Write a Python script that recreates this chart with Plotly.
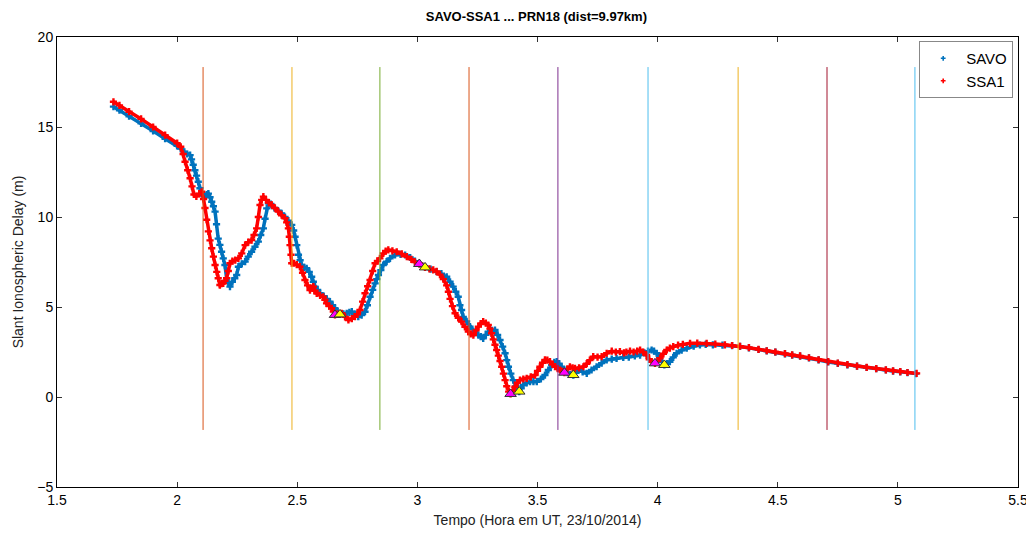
import plotly.graph_objects as go

# ---------------- data ----------------
savo_t = [1.735, 1.76, 1.80, 1.85, 1.90, 1.95, 2.00, 2.015, 2.030, 2.042, 2.054, 2.060, 2.067, 2.074, 2.081,
          2.088, 2.095, 2.102, 2.109, 2.116, 2.123, 2.130, 2.137, 2.144, 2.151, 2.158, 2.164, 2.171, 2.178,
          2.185, 2.192, 2.199, 2.206, 2.213, 2.220, 2.230, 2.240, 2.248, 2.255, 2.269, 2.283, 2.296, 2.31,
          2.324, 2.338, 2.348, 2.359, 2.366, 2.373, 2.380, 2.390, 2.405, 2.420, 2.435, 2.449, 2.463, 2.477,
          2.485, 2.491, 2.498, 2.505, 2.512, 2.518, 2.529, 2.539, 2.550, 2.560, 2.567, 2.574, 2.585, 2.595,
          2.610, 2.623, 2.636, 2.647, 2.657, 2.668, 2.678, 2.692, 2.706, 2.717, 2.727, 2.740, 2.754, 2.768,
          2.782, 2.792, 2.803, 2.814, 2.824, 2.831, 2.838, 2.848, 2.858, 2.872, 2.886, 2.907, 2.930, 2.949,
          2.970, 2.990, 3.010, 3.032, 3.055, 3.080, 3.100, 3.122, 3.136, 3.149, 3.160, 3.170, 3.177, 3.184,
          3.191, 3.205, 3.219, 3.240, 3.254, 3.264, 3.274, 3.285, 3.295, 3.310, 3.323, 3.334, 3.344, 3.355,
          3.365, 3.372, 3.379, 3.389, 3.399, 3.410, 3.417, 3.424, 3.432, 3.441, 3.455, 3.469, 3.483, 3.497,
          3.514, 3.531, 3.545, 3.559, 3.570, 3.580, 3.590, 3.600, 3.612, 3.625, 3.637, 3.649, 3.660, 3.670,
          3.688, 3.705, 3.725, 3.746, 3.767, 3.788, 3.809, 3.829, 3.857, 3.880, 3.905, 3.927, 3.945, 3.960,
          3.975, 3.985, 3.996, 4.008, 4.018, 4.028, 4.040, 4.051, 4.065, 4.079, 4.100, 4.121, 4.150, 4.176,
          4.20, 4.23, 4.27, 4.31, 4.343, 4.38, 4.42, 4.454, 4.49, 4.53, 4.56, 4.593, 4.63, 4.67, 4.71, 4.75,
          4.79, 4.83, 4.87, 4.91, 4.95, 4.98, 5.01, 5.04, 5.075]
savo_v = [16.13, 15.93, 15.60, 15.20, 14.78, 14.35, 13.95, 13.80, 13.62, 13.50, 13.44, 13.20, 12.90, 12.60, 12.30,
          11.96, 11.60, 11.30, 11.20, 11.15, 11.25, 11.30, 11.10, 10.85, 10.60, 10.30, 9.60, 8.80, 8.45,
          8.07, 7.70, 7.33, 6.60, 6.35, 6.13, 6.40, 6.60, 6.78, 7.24, 7.40, 7.52, 7.80, 8.07,
          8.35, 8.63, 9.00, 9.37, 9.90, 10.48, 10.76, 10.72, 10.50, 10.35, 10.20, 10.00, 9.80, 9.56,
          9.25, 8.90, 8.44, 7.90, 7.60, 7.33, 7.20, 7.15, 6.95, 6.68, 6.40, 6.13, 5.95, 5.76,
          5.60, 5.45, 5.30, 5.10, 4.93, 4.75, 4.59, 4.62, 4.65, 4.70, 4.74, 4.60, 4.46, 4.55,
          4.74, 5.10, 5.57, 5.95, 6.31, 6.55, 6.78, 7.05, 7.33, 7.52, 7.70, 7.89, 7.92, 7.89,
          7.75, 7.55, 7.40, 7.22, 7.10, 6.96, 6.85, 6.68, 6.40, 6.13, 5.85, 5.57, 5.10, 4.83,
          4.45, 4.20, 3.91, 3.60, 3.44, 3.35, 3.26, 3.45, 3.63, 3.70, 3.72, 3.45, 3.17, 2.80,
          2.43, 2.05, 1.68, 1.30, 0.94, 0.60, 0.40, 0.30, 0.48, 0.67, 0.78, 0.85, 0.85, 0.85,
          1.00, 1.22, 1.50, 1.78, 1.92, 1.96, 1.85, 1.68, 1.50, 1.35, 1.25, 1.22, 1.35, 1.50,
          1.40, 1.31, 1.50, 1.68, 1.88, 2.06, 2.10, 2.15, 2.20, 2.22, 2.28, 2.33, 2.45, 2.55,
          2.61, 2.55, 2.43, 2.20, 1.95, 1.78, 1.85, 1.96, 2.20, 2.43, 2.60, 2.71, 2.82, 2.89,
          2.92, 2.90, 2.88, 2.85, 2.81, 2.73, 2.64, 2.56, 2.49, 2.40, 2.33, 2.27, 2.17, 2.06, 1.95, 1.87,
          1.79, 1.71, 1.64, 1.57, 1.50, 1.44, 1.40, 1.35, 1.30]

ssa1_t = [1.735, 1.76, 1.80, 1.85, 1.90, 1.95, 2.00, 2.015, 2.025, 2.033, 2.044, 2.054, 2.062, 2.070, 2.080,
          2.092, 2.102, 2.110, 2.116, 2.123, 2.130, 2.137, 2.144, 2.151, 2.158, 2.165, 2.171, 2.178, 2.185,
          2.192, 2.199, 2.206, 2.213, 2.220, 2.230, 2.242, 2.255, 2.269, 2.283, 2.296, 2.31, 2.320, 2.331,
          2.338, 2.345, 2.352, 2.359, 2.370, 2.382, 2.394, 2.407, 2.421, 2.435, 2.449, 2.456, 2.463, 2.467,
          2.470, 2.474, 2.477, 2.487, 2.498, 2.511, 2.522, 2.532, 2.543, 2.553, 2.560, 2.567, 2.574, 2.581,
          2.595, 2.608, 2.615, 2.622, 2.633, 2.643, 2.650, 2.657, 2.670, 2.685, 2.699, 2.713, 2.727, 2.740,
          2.750, 2.761, 2.772, 2.782, 2.793, 2.803, 2.814, 2.824, 2.834, 2.844, 2.858, 2.868, 2.879, 2.896,
          2.914, 2.935, 2.956, 2.975, 2.990, 3.008, 3.020, 3.032, 3.050, 3.066, 3.080, 3.094, 3.108, 3.122,
          3.129, 3.136, 3.146, 3.157, 3.170, 3.184, 3.198, 3.212, 3.222, 3.233, 3.244, 3.254, 3.264, 3.274,
          3.285, 3.295, 3.302, 3.309, 3.316, 3.323, 3.330, 3.337, 3.344, 3.351, 3.358, 3.365, 3.372, 3.380,
          3.388, 3.397, 3.406, 3.416, 3.427, 3.441, 3.455, 3.472, 3.490, 3.500, 3.510, 3.521, 3.531, 3.541,
          3.552, 3.563, 3.573, 3.584, 3.594, 3.603, 3.612, 3.624, 3.635, 3.646, 3.656, 3.673, 3.691, 3.705,
          3.718, 3.732, 3.750, 3.767, 3.788, 3.809, 3.826, 3.843, 3.860, 3.870, 3.885, 3.900, 3.915, 3.927,
          3.940, 3.954, 3.965, 3.975, 3.989, 4.000, 4.010, 4.024, 4.038, 4.051, 4.065, 4.085, 4.105, 4.135,
          4.165, 4.204, 4.24, 4.28, 4.31, 4.343, 4.38, 4.42, 4.454, 4.49, 4.53, 4.56, 4.593, 4.63, 4.67,
          4.71, 4.75, 4.79, 4.83, 4.87, 4.91, 4.95, 4.98, 5.01, 5.04, 5.078]
ssa1_v = [16.40, 16.20, 15.85, 15.45, 15.00, 14.55, 14.10, 13.90, 13.50, 13.07, 12.60, 12.15, 11.70, 11.25, 11.15,
          11.30, 11.40, 11.00, 10.50, 9.85, 9.20, 8.70, 8.26, 7.80, 7.33, 6.95, 6.60, 6.22, 6.30,
          6.31, 6.45, 6.60, 7.00, 7.43, 7.55, 7.60, 7.70, 7.98, 8.44, 8.60, 8.72, 9.00, 9.37,
          10.00, 10.67, 10.95, 11.13, 10.95, 10.80, 10.67, 10.50, 10.30, 10.10, 9.93, 9.70, 9.37, 8.90,
          8.44, 7.90, 7.43, 7.43, 7.35, 7.24, 6.90, 6.50, 6.20, 5.94, 6.05, 6.13, 5.90, 5.76,
          5.65, 5.57, 5.40, 5.20, 5.05, 4.93, 4.75, 4.56, 4.60, 4.65, 4.45, 4.28, 4.35, 4.46,
          4.60, 4.83, 5.30, 5.76, 6.15, 6.50, 7.00, 7.43, 7.55, 7.70, 7.98, 8.10, 8.17, 8.12,
          8.07, 7.95, 7.80, 7.65, 7.50, 7.39, 7.28, 7.20, 7.12, 7.06, 6.98, 6.80, 6.55, 6.20,
          5.85, 5.45, 5.05, 4.65, 4.40, 4.19, 3.90, 3.63, 3.50, 3.44, 3.70, 3.91, 4.08, 4.19,
          4.10, 4.00, 3.80, 3.54, 3.20, 2.90, 2.61, 2.30, 2.00, 1.68, 1.30, 0.94, 0.60, 0.30,
          0.17, 0.35, 0.57, 0.80, 0.94, 1.00, 1.04, 1.12, 1.22, 1.45, 1.68, 1.90, 2.06, 2.05,
          1.96, 1.82, 1.68, 1.58, 1.50, 1.42, 1.35, 1.55, 1.68, 1.62, 1.59, 1.62, 1.68, 1.85,
          2.05, 2.24, 2.22, 2.24, 2.43, 2.55, 2.50, 2.52, 2.45, 2.50, 2.55, 2.50, 2.55, 2.61,
          2.50, 2.33, 2.10, 1.95, 1.87, 2.00, 2.15, 2.40, 2.61, 2.72, 2.80, 2.88, 2.92, 2.98,
          2.99, 2.98, 2.94, 2.90, 2.86, 2.82, 2.74, 2.65, 2.57, 2.50, 2.41, 2.34, 2.28, 2.18, 2.07,
          1.96, 1.88, 1.80, 1.72, 1.65, 1.58, 1.51, 1.45, 1.41, 1.36, 1.31]

# event markers (triangles)
mag_t = [2.657, 3.008, 3.388, 3.612, 3.989]
mag_v = [4.56, 7.39, 0.17, 1.35, 1.87]
yel_t = [2.678, 3.032, 3.424, 3.649, 4.028]
yel_v = [4.59, 7.20, 0.30, 1.22, 1.78]

# vertical reference lines
vline_t = [2.108, 2.478, 2.844, 3.215, 3.585, 3.960, 4.335, 4.705, 5.071]
vline_colors = ["#D95319", "#EDB120", "#77AC30", "#D95319", "#7E2F8E",
                "#4DBEEE", "#EDB120", "#A2142F", "#4DBEEE"]
vline_lo, vline_hi = -1.83, 18.33

x_ticks = [1.5, 2, 2.5, 3, 3.5, 4, 4.5, 5, 5.5]
x_tick_text = ["1.5", "2", "2.5", "3", "3.5", "4", "4.5", "5", "5.5"]
y_ticks = [-5, 0, 5, 10, 15, 20]

FONT = "Liberation Sans, Arial"

# ---------------- figure ----------------
fig = go.Figure()

fig.add_trace(go.Scatter(x=savo_t, y=savo_v, mode="lines+markers", name="SAVO", showlegend=False,
                         line=dict(color="#0072BD", width=3.5),
                         marker=dict(symbol="cross", size=6, color="#0072BD")))
fig.add_trace(go.Scatter(x=ssa1_t, y=ssa1_v, mode="lines+markers", name="SSA1", showlegend=False,
                         line=dict(color="#FF0000", width=3.5),
                         marker=dict(symbol="cross", size=6, color="#FF0000")))

# legend entries (small dot symbols as in the original)
fig.add_trace(go.Scatter(x=[None], y=[None], mode="markers", name="SAVO",
                         marker=dict(symbol="cross", size=4, color="#0072BD")))
fig.add_trace(go.Scatter(x=[None], y=[None], mode="markers", name="SSA1",
                         marker=dict(symbol="cross", size=4, color="#FF0000")))

for t, c in zip(vline_t, vline_colors):
    fig.add_trace(go.Scatter(x=[t, t], y=[vline_lo, vline_hi], mode="lines",
                             line=dict(color=c, width=1), showlegend=False, hoverinfo="skip"))

fig.add_trace(go.Scatter(x=mag_t, y=mag_v, mode="markers", showlegend=False,
                         marker=dict(symbol="triangle-up", size=10, color="#FF00FF",
                                     line=dict(color="#333333", width=1))))
fig.add_trace(go.Scatter(x=yel_t, y=yel_v, mode="markers", showlegend=False,
                         marker=dict(symbol="triangle-up", size=10, color="#FFFF00",
                                     line=dict(color="#333333", width=1))))

axis_common = dict(showgrid=False, zeroline=False, showline=True, linecolor="black", linewidth=1,
                   mirror="allticks", ticks="inside", ticklen=5, tickcolor="#333333",
                   automargin=False,
                   tickfont=dict(family=FONT, size=14, color="black"))

# the page body keeps its default 8px margin, so the figure is sized to fit the window
fig.update_layout(
    template="none",
    width=1026, height=525,
    margin=dict(l=49, r=16, t=29, b=46),
    paper_bgcolor="white", plot_bgcolor="white",
    title=dict(text="<b>SAVO-SSA1 ... PRN18 (dist=9.97km)</b>", x=0.515, xanchor="center",
               y=0.983, yanchor="middle",
               font=dict(family=FONT, size=13, color="black")),
    xaxis=dict(range=[1.5, 5.5], tickvals=x_ticks, ticktext=x_tick_text,
               title=dict(text="Tempo (Hora em UT, 23/10/2014)", standoff=8,
                          font=dict(family=FONT, size=14, color="#222")),
               **axis_common),
    yaxis=dict(range=[-5, 20], tickvals=y_ticks,
               title=dict(text="Slant Ionospheric Delay (m)", standoff=10,
                          font=dict(family=FONT, size=14, color="#222")),
               **axis_common),
    legend=dict(x=0.995, y=0.991, xanchor="right", yanchor="top",
                bgcolor="white", bordercolor="#888888", borderwidth=1,
                font=dict(family=FONT, size=15, color="black"),
                itemwidth=36, tracegroupgap=0),
    showlegend=True,
)

fig.write_html("out.html", config={"displayModeBar": False})
